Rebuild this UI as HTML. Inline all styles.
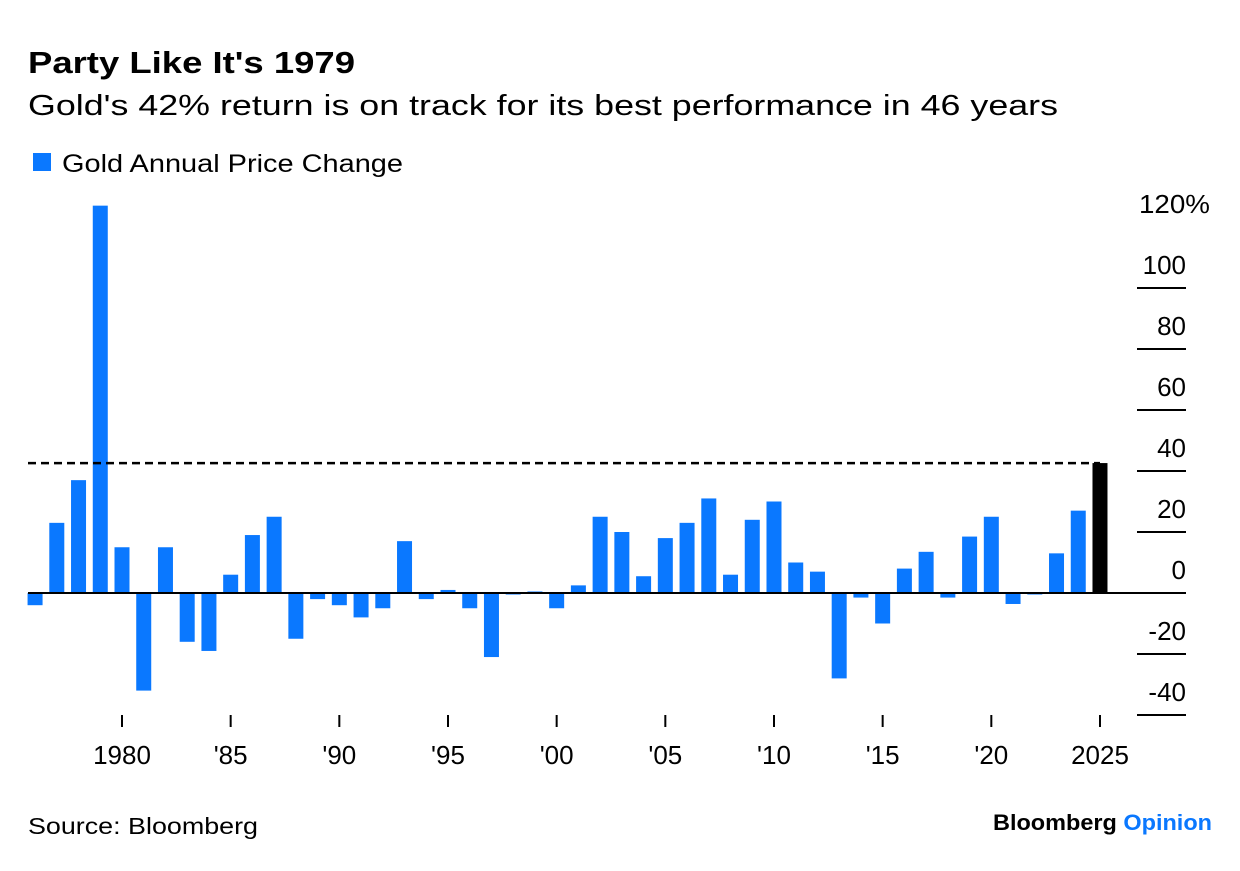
<!DOCTYPE html>
<html><head><meta charset="utf-8"><style>
body{margin:0;background:#fff;font-family:"Liberation Sans",sans-serif;}
svg text{font-family:"Liberation Sans",sans-serif;}
</style></head><body>
<svg width="1240" height="866">
<text x="28" y="73" font-size="31" font-weight="bold" fill="#000" textLength="327" lengthAdjust="spacingAndGlyphs">Party Like It's 1979</text>
<text x="28" y="115" font-size="29" fill="#000" textLength="1030" lengthAdjust="spacingAndGlyphs">Gold's 42% return is on track for its best performance in 46 years</text>
<rect x="33" y="153" width="18" height="18" fill="#0a78ff"/>
<text x="62" y="172" font-size="25" fill="#000" textLength="341" lengthAdjust="spacingAndGlyphs">Gold Annual Price Change</text>
<g id="yaxis"></g>
<g id="bars"></g>
<g id="xaxis"></g>
<text x="28" y="834" font-size="23" fill="#000" textLength="230" lengthAdjust="spacingAndGlyphs">Source: Bloomberg</text>
<text x="993" y="830" font-size="22" font-weight="bold" textLength="219" lengthAdjust="spacingAndGlyphs"><tspan fill="#000">Bloomberg </tspan><tspan fill="#0a78ff">Opinion</tspan></text>
</svg>
<script>
const years=[1976,1977,1978,1979,1980,1981,1982,1983,1984,1985,1986,1987,1988,1989,1990,1991,1992,1993,1994,1995,1996,1997,1998,1999,2000,2001,2002,2003,2004,2005,2006,2007,2008,2009,2010,2011,2012,2013,2014,2015,2016,2017,2018,2019,2020,2021,2022,2023,2024,2025];
const changes=[-4,23,37,127,15,-32,15,-16,-19,6,19,25,-15,-2,-4,-8,-5,17,-2,1,-5,-21,-0.5,0.5,-5,2.5,25,20,5.5,18,23,31,6,24,30,10,7,-28,-1.5,-10,8,13.5,-1.5,18.5,25,-3.6,-0.5,13,27,42.6];
const yTicks=[-40,-20,0,20,40,60,80,100,120];
const xTicks=[1980,1985,1990,1995,2000,2005,2010,2015,2020,2025];
const xTickLabels=["1980","'85","'90","'95","'00","'05","'10","'15","'20","2025"];
const latest=42.6;
const NS="http://www.w3.org/2000/svg";
function y(v){return 593-v*3.05;}
function x(yr){return 122+(yr-1980)*21.733;}
function mk(tag,attrs,parent){const e=document.createElementNS(NS,tag);for(const k in attrs)e.setAttribute(k,attrs[k]);parent.appendChild(e);return e;}
const ya=document.getElementById('yaxis'),ba=document.getElementById('bars'),xa=document.getElementById('xaxis');
yTicks.forEach(t=>{
 if(t<120&&t!==0){const l=mk('line',{x1:1137,x2:1186,y1:y(t),y2:y(t),stroke:'#000','stroke-width':2},ya);
 
 }
 const tx=mk('text',{x:1186,y:y(t)-14,'font-size':26,'text-anchor':'end',fill:'#000'},ya);
 tx.textContent=t===120?'120':String(t);
 if(t===120){const p=mk('tspan',{},tx);p.textContent='%';tx.setAttribute('text-anchor','start');tx.setAttribute('x',1139);tx.setAttribute('textLength',71);tx.setAttribute('lengthAdjust','spacingAndGlyphs');}
 
 
});
years.forEach((yr,i)=>{
 const v=changes[i];
 const r=mk('rect',{x:x(yr)-7.5,width:15,y:Math.min(y(v),y(0)),height:Math.max(Math.abs(y(v)-y(0)),1.5),fill:yr===2025?'#000':'#0a78ff'},ba);
 
 
});
const dl=mk('line',{x1:28,x2:x(2025),y1:y(latest),y2:y(latest),stroke:'#000','stroke-width':2.5,'stroke-dasharray':'8,5'},ba);


const bl=mk('line',{x1:28,x2:1186,y1:y(0),y2:y(0),stroke:'#000','stroke-width':2},ba);


xTicks.forEach((t,i)=>{
 const l=mk('line',{x1:x(t),x2:x(t),y1:715,y2:727,stroke:'#000','stroke-width':2},xa);
 
 
 const tx=mk('text',{x:x(t),y:764,'font-size':26,'text-anchor':'middle',fill:'#000'},xa);
 tx.textContent=xTickLabels[i];
 
 
});
</script>
</body></html>
